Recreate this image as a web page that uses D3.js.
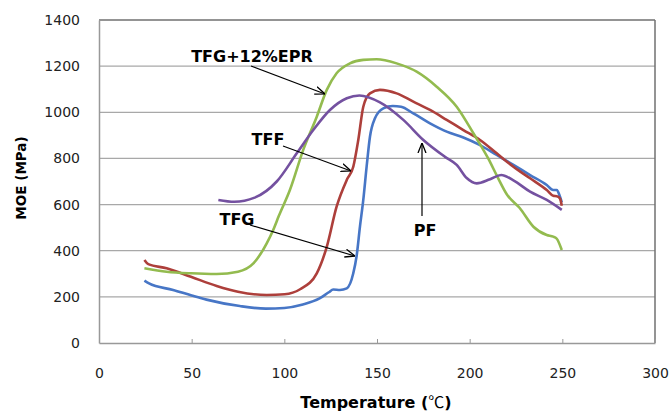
<!DOCTYPE html>
<html>
<head>
<meta charset="utf-8">
<script src="https://cdn.jsdelivr.net/npm/d3@7"></script>
<style>
  body { margin: 0; background: #fff; }
  text { font-family: "DejaVu Sans", sans-serif; }
</style>
</head>
<body>
<svg id="chart" width="670" height="412"></svg>
<script>
// data: [temperature, MOE]
const tfg = [[24.5,270],[27,258],[40,230],[50,206],[58,188],[76,160],[90,149],[100,152],[110,167],[119,193],[124,220],[126.4,232],[130,230],[133.7,237],[137.2,302],[139,377],[140.8,504],[142.6,620],[144.4,764],[146.2,894],[148.9,974],[153.4,1017],[158.5,1027],[163,1024],[169.6,995],[178.6,952],[187.6,916],[196.6,891],[205.6,858],[214.6,815],[223.6,772],[232.6,728],[241.6,685],[245,663],[247,663],[248.7,635],[249.7,610]]
const tff = [[24.5,360],[26.6,342],[36.5,324],[49.6,287],[63.5,247],[75,222],[90.5,208],[100.2,211],[108.5,233],[117.5,302],[122.9,417],[128.2,591],[133.7,707],[137.2,764],[139.9,880],[142.6,1024],[146.2,1082],[151.6,1097],[160.6,1082],[169.6,1046],[178.6,1010],[187.6,967],[196.6,923],[205.6,880],[214.6,822],[223.6,764],[232.6,714],[241.6,663],[245.1,638],[247,636],[248.7,627],[249.7,595]]
const tfgEpr = [[24.5,324],[36.5,309],[49.6,302],[63.5,299],[75,309],[83.3,345],[90.5,432],[94,490],[97,550],[103,663],[110.2,837],[117.5,981],[122.9,1097],[128.2,1169],[135.4,1212],[142.6,1227],[149.8,1230],[160.6,1212],[171.4,1176],[182.2,1111],[193,1024],[202,909],[210,800],[215,720],[220,645],[227,585],[234.4,504],[241.6,468],[245.1,461],[247,452],[249.7,403]]
const pf = [[64.4,620],[73,612],[84,630],[95.9,700],[106.7,822],[115.6,923],[124.6,1010],[133.7,1061],[140.5,1073],[151.6,1043],[164.2,967],[175,880],[186.5,808],[193,772],[198.4,715],[203.8,692],[211,710],[217,728],[223.6,705],[232.6,656],[241.6,620],[249.7,577]]

const xTicks = [0, 50, 100, 150, 200, 250, 300]
const yTicks = [0, 200, 400, 600, 800, 1000, 1200, 1400]

const series = [
  { name: "TFG", values: tfg, color: "#4776c6" },
  { name: "TFF", values: tff, color: "#ad3f3b" },
  { name: "TFG+12%EPR", values: tfgEpr, color: "#93bb4f" },
  { name: "PF", values: pf, color: "#7451a0" }
]

const MARGIN = { LEFT: 99, RIGHT: 15, TOP: 20, BOTTOM: 69 }
const WIDTH = 670 - MARGIN.LEFT - MARGIN.RIGHT
const HEIGHT = 412 - MARGIN.TOP - MARGIN.BOTTOM

const svg = d3.select("#chart")
const g = svg.append("g").attr("transform", `translate(${MARGIN.LEFT}, ${MARGIN.TOP})`)

// scales
const x = d3.scaleLinear().domain([0, 300]).range([0, WIDTH])
const y = d3.scaleLinear().domain([0, 1400]).range([HEIGHT, 0])

// gridlines
g.selectAll(".grid").data(yTicks.filter(d => d > 0 && d < 1400)).enter()
  .append("line")
  .attr("x1", 0).attr("x2", WIDTH)
  .attr("y1", d => y(d)).attr("y2", d => y(d))
  .attr("stroke", "#a8a8a8").attr("stroke-width", 1.2)

// plot frame (top and right darker)
g.append("line").attr("x1", 0).attr("x2", WIDTH).attr("y1", 0).attr("y2", 0)
  .attr("stroke", "#707070").attr("stroke-width", 1.5)
g.append("line").attr("x1", WIDTH).attr("x2", WIDTH).attr("y1", 0).attr("y2", HEIGHT)
  .attr("stroke", "#707070").attr("stroke-width", 1.5)

// axes
const xAxis = g.append("g").attr("transform", `translate(0, ${HEIGHT})`)
  .call(d3.axisBottom(x).tickValues(xTicks).tickSizeInner(-4).tickSizeOuter(0).tickFormat(d3.format("d")))
xAxis.select(".domain").attr("stroke", "#999").attr("stroke-width", 1.5)
xAxis.selectAll(".tick line").attr("stroke", "#999")
xAxis.selectAll(".tick text")
  .attr("y", 25)
  .attr("font-family", "'DejaVu Serif', serif")
  .attr("font-size", "14px")
  .attr("fill", "#222")

const yAxis = g.append("g")
  .call(d3.axisLeft(y).tickValues(yTicks).tickSize(0).tickPadding(19).tickFormat(d3.format("d")))
yAxis.select(".domain").attr("stroke", "#999").attr("stroke-width", 1.5)
yAxis.selectAll(".tick text")
  .attr("font-family", "'DejaVu Sans', sans-serif")
  .attr("font-size", "14px")
  .attr("fill", "#222")

// axis titles
const xTitle = svg.append("text")
  .attr("x", 376).attr("y", 408)
  .attr("text-anchor", "middle")
  .attr("font-weight", "bold")
  .attr("font-size", "16px")
xTitle.append("tspan").text("Temperature (")
xTitle.append("tspan")
  .attr("font-family", "'Noto Sans CJK SC', sans-serif")
  .attr("font-weight", "normal")
  .text("℃")
xTitle.append("tspan").text(")")

svg.append("text")
  .attr("transform", "translate(26, 178) rotate(-90)")
  .attr("text-anchor", "middle")
  .attr("font-weight", "bold")
  .attr("font-size", "13.5px")
  .text("MOE (MPa)")

// lines
const line = d3.line()
  .x(d => x(d[0]))
  .y(d => y(d[1]))
  .curve(d3.curveMonotoneX)

g.selectAll(".series").data(series).enter()
  .append("path")
  .attr("fill", "none")
  .attr("stroke", d => d.color)
  .attr("stroke-width", 2.6)
  .attr("stroke-linejoin", "round")
  .attr("d", d => line(d.values))

// annotations with arrows
svg.append("defs").append("marker")
  .attr("id", "arrow")
  .attr("viewBox", "0 0 10 10")
  .attr("refX", 10).attr("refY", 5)
  .attr("markerWidth", 10).attr("markerHeight", 10)
  .attr("markerUnits", "userSpaceOnUse")
  .attr("orient", "auto")
  .append("path")
  .attr("d", "M0,1 L10,5 L0,9")
  .attr("fill", "none")
  .attr("stroke", "#000")
  .attr("stroke-width", 1.3)

const notes = [
  { label: "TFG+12%EPR", tx: 252, ty: 62, from: [251, 66], to: [325, 94] },
  { label: "TFF", tx: 268, ty: 145, from: [283, 146], to: [351, 171] },
  { label: "TFG", tx: 237, ty: 225, from: [250, 225], to: [355, 256] },
  { label: "PF", tx: 425, ty: 236, from: [422, 216], to: [422, 143] }
]

svg.selectAll(".note-line").data(notes).enter()
  .append("line")
  .attr("x1", d => d.from[0]).attr("y1", d => d.from[1])
  .attr("x2", d => d.to[0]).attr("y2", d => d.to[1])
  .attr("stroke", "#000").attr("stroke-width", 1.2)
  .attr("marker-end", "url(#arrow)")

svg.selectAll(".note-text").data(notes).enter()
  .append("text")
  .attr("x", d => d.tx).attr("y", d => d.ty)
  .attr("text-anchor", "middle")
  .attr("font-family", "'Liberation Sans', Arial, sans-serif")
  .attr("font-weight", "bold")
  .attr("font-size", "16px")
  .text(d => d.label)
</script>
</body>
</html>
